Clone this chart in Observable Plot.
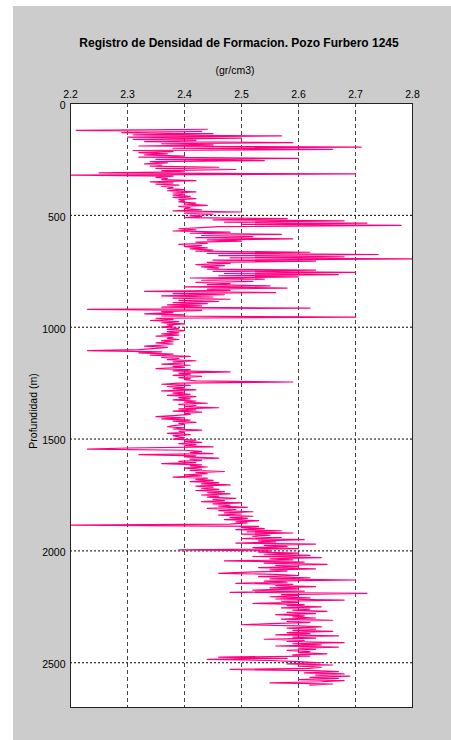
<!DOCTYPE html>
<html><head><meta charset="utf-8">
<script src="https://cdn.jsdelivr.net/npm/d3@7"></script>
<script src="https://cdn.jsdelivr.net/npm/@observablehq/plot@0.6"></script>
<style>
body{margin:0;background:#fff;width:451px;height:740px;overflow:hidden;font-family:"Liberation Sans",Arial,sans-serif}
#panel{position:absolute;left:13px;top:6px;width:438px;height:734px;background:#cccccc}
#panel svg{position:absolute;left:0;top:0}
.lbl{position:absolute;white-space:nowrap;transform:translate(-50%,-50%);color:#000}
#title{left:226px;top:37px;font-weight:bold;font-size:12px}
#xlab{left:222px;top:64px;font-size:10.5px}
#ylab{left:20px;top:405px;font-size:10.5px;transform:translate(-50%,-50%) rotate(-90deg)}
</style></head>
<body>
<div id="panel">
<div class="lbl" id="title">Registro de Densidad de Formacion. Pozo Furbero 1245</div>
<div class="lbl" id="xlab">(gr/cm3)</div>
<div class="lbl" id="ylab">Profundidad (m)</div>
</div>
<script>
// Depth sampling (m): first sample and spacing of the log
const depthStart = 115;
const depthStep = 5;
// Formation density (gr/cm3), one value per sample, rows of 100 m
const density = [
2.44,2.21,2.43,2.29,2.45,2.31,2.57,2.30,2.50,2.31,2.42,2.33,2.59,2.36,2.45,2.32,2.71,2.38,2.66,2.31,
2.38,2.32,2.37,2.33,2.40,2.32,2.60,2.35,2.54,2.34,2.37,2.33,2.36,2.34,2.46,2.35,2.49,2.36,2.40,2.25,
2.70,2.20,2.38,2.35,2.37,2.36,2.42,2.34,2.38,2.35,2.39,2.36,2.38,2.37,2.40,2.37,2.42,2.38,2.40,2.38,
2.41,2.38,2.42,2.39,2.40,2.39,2.42,2.40,2.44,2.39,2.41,2.40,2.43,2.38,2.50,2.40,2.45,2.41,2.43,2.40,
2.58,2.45,2.68,2.47,2.72,2.50,2.78,2.46,2.43,2.39,2.42,2.38,2.48,2.41,2.57,2.43,2.52,2.42,2.59,2.44,
2.50,2.42,2.44,2.39,2.43,2.40,2.44,2.41,2.45,2.42,2.62,2.44,2.74,2.46,2.68,2.48,2.80,2.45,2.63,2.44,
2.48,2.42,2.47,2.43,2.46,2.44,2.63,2.45,2.70,2.47,2.67,2.46,2.60,2.41,2.54,2.43,2.52,2.42,2.48,2.44,
2.55,2.40,2.58,2.44,2.48,2.33,2.56,2.38,2.47,2.36,2.45,2.38,2.48,2.39,2.46,2.38,2.44,2.37,2.43,2.36,
2.62,2.23,2.43,2.36,2.38,2.33,2.40,2.36,2.70,2.35,2.38,2.34,2.39,2.36,2.40,2.37,2.38,2.36,2.39,2.37,
2.40,2.37,2.39,2.36,2.39,2.35,2.38,2.37,2.39,2.36,2.38,2.35,2.38,2.36,2.33,2.37,2.35,2.32,2.23,2.36,
2.32,2.38,2.34,2.41,2.36,2.39,2.37,2.42,2.38,2.40,2.36,2.41,2.38,2.40,2.35,2.41,2.38,2.48,2.39,2.41,
2.38,2.43,2.39,2.41,2.40,2.42,2.59,2.39,2.36,2.41,2.37,2.40,2.38,2.42,2.36,2.40,2.38,2.41,2.37,2.42,
2.39,2.41,2.38,2.42,2.40,2.44,2.39,2.42,2.40,2.46,2.39,2.42,2.38,2.43,2.40,2.41,2.38,2.35,2.40,2.36,
2.41,2.38,2.42,2.39,2.40,2.38,2.37,2.40,2.38,2.43,2.39,2.40,2.37,2.41,2.38,2.39,2.40,2.38,2.42,2.40,
2.43,2.39,2.42,2.40,2.45,2.30,2.23,2.40,2.43,2.41,2.45,2.32,2.42,2.40,2.46,2.41,2.43,2.39,2.42,2.36,
2.43,2.41,2.44,2.40,2.43,2.41,2.47,2.42,2.44,2.40,2.43,2.38,2.44,2.42,2.45,2.41,2.46,2.43,2.48,2.42,
2.45,2.43,2.46,2.42,2.47,2.44,2.48,2.43,2.46,2.44,2.49,2.45,2.47,2.43,2.50,2.45,2.48,2.46,2.51,2.44,
2.49,2.46,2.52,2.47,2.50,2.46,2.52,2.48,2.51,2.47,2.53,2.49,2.51,2.48,2.20,2.53,2.50,2.54,2.49,2.57,
2.51,2.59,2.50,2.55,2.52,2.57,2.50,2.61,2.53,2.56,2.49,2.63,2.54,2.58,2.52,2.60,2.39,2.55,2.53,2.60,
2.54,2.62,2.52,2.64,2.55,2.59,2.47,2.61,2.54,2.65,2.56,2.60,2.53,2.63,2.55,2.58,2.51,2.46,2.56,2.60,
2.53,2.62,2.55,2.70,2.54,2.58,2.49,2.59,2.56,2.63,2.55,2.60,2.52,2.61,2.48,2.72,2.57,2.60,2.55,2.62,
2.56,2.68,2.57,2.60,2.52,2.61,2.58,2.64,2.57,2.62,2.59,2.65,2.58,2.63,2.56,2.61,2.59,2.63,2.57,2.66,
2.58,2.62,2.55,2.50,2.60,2.64,2.58,2.63,2.59,2.66,2.58,2.62,2.56,2.67,2.59,2.63,2.54,2.61,2.58,2.68,
2.59,2.64,2.56,2.67,2.60,2.63,2.58,2.62,2.60,2.65,2.59,2.62,2.46,2.58,2.44,2.55,2.60,2.64,2.58,2.66,
2.60,2.64,2.62,2.48,2.63,2.67,2.61,2.68,2.63,2.69,2.62,2.67,2.60,2.68,2.64,2.55,2.66,2.62
];
// Axis ticks
const xTicks = [2.2, 2.3, 2.4, 2.5, 2.6, 2.7, 2.8];
const yTicks = [0, 500, 1000, 1500, 2000, 2500];
const xGrid = [2.3, 2.4, 2.5, 2.6, 2.7];
const yGrid = [500, 1000, 1500, 2000, 2500];

const logData = density.map((rho, i) => ({depth: depthStart + depthStep * i, rho}));

const chart = Plot.plot({
  width: 438, height: 734,
  marginLeft: 57, marginRight: 39, marginTop: 97, marginBottom: 33,
  style: {background: "transparent", fontFamily: "'Liberation Sans', Arial, sans-serif", fontSize: "10px", color: "black"},
  x: {domain: [2.2, 2.8], axis: null},
  y: {domain: [0, 2700], reverse: true, axis: null},
  marks: [
    Plot.frame({fill: "white", stroke: "none"}),
    Plot.ruleX(xGrid, {stroke: "#444", strokeWidth: 1, strokeDasharray: "4,3"}),
    Plot.ruleY(yGrid, {stroke: "#000", strokeWidth: 1, strokeDasharray: "2,2"}),
    Plot.line(logData, {x: "rho", y: "depth", stroke: "#ff0080", strokeWidth: 1.2}),
    Plot.frame({stroke: "#222", strokeWidth: 1}),
    Plot.text(xTicks, {x: d => d, frameAnchor: "top", lineAnchor: "bottom", dy: -6, text: d => d.toFixed(1), fill: "black", fontSize: 10.5}),
    Plot.text(yTicks, {y: d => d, frameAnchor: "left", dx: -5, dy: 2, textAnchor: "end", text: d => String(d), fill: "black", fontSize: 10.5})
  ]
});
document.getElementById("panel").prepend(chart);
</script>
</body></html>
